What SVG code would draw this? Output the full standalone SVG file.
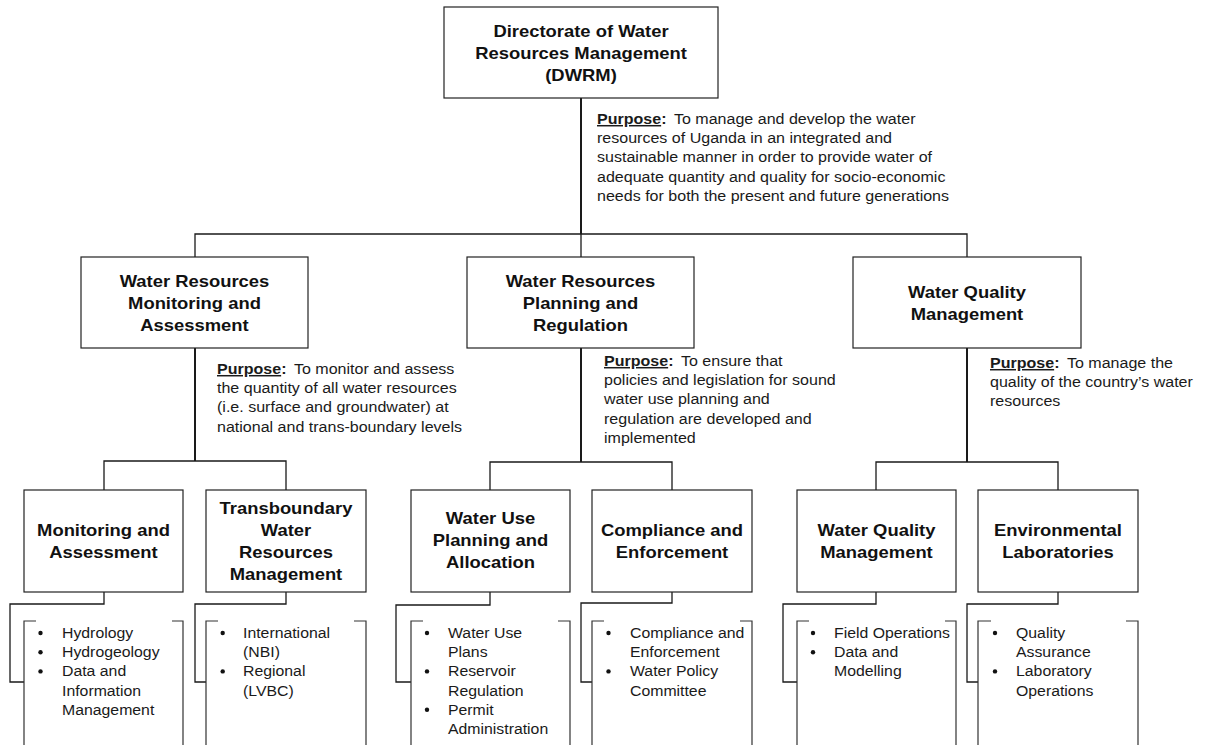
<svg xmlns="http://www.w3.org/2000/svg" width="1210" height="745" viewBox="0 0 1210 745">
<style>
.box{fill:#fff;stroke:#222;stroke-width:1.2}
.ln{fill:none;stroke:#1a1a1a;stroke-width:1.3}
.thk{fill:none;stroke:#1a1a1a;stroke-width:2}
.br{fill:none;stroke:#333;stroke-width:1.2}
.t{font-family:"Liberation Sans",Arial,sans-serif;font-weight:bold;font-size:16.3px;fill:#111;text-anchor:middle}
.b{font-family:"Liberation Sans",Arial,sans-serif;font-size:15px;fill:#1a1a1a}
.p{font-weight:bold;text-decoration:underline}
.c{font-weight:bold}
.dot{fill:#111}
</style>
<g id="connectors">
<path class="thk" d="M581,98V234"/>
<path class="ln" d="M195,257V234H967V257M581,234V257"/>
<path class="thk" d="M195,348V461M581,348V462M967,348V462"/>
<path class="ln" d="M104,490V461H286V490"/>
<path class="ln" d="M490,490V462H672V490"/>
<path class="ln" d="M876,490V462H1058V490"/>
<path class="ln" d="M104,592V604H10V682H24"/>
<path class="ln" d="M286,592V604H195V682H206"/>
<path class="ln" d="M490,592V605H396V682H411"/>
<path class="ln" d="M672,592V603H581V682H592"/>
<path class="ln" d="M876,592V604H783V682H797"/>
<path class="ln" d="M1058,592V604H967V682H978"/>
</g>
<g id="dwrm">
<rect class="box" x="444" y="7" width="274" height="91"/>
<g transform="translate(581,37) scale(1.13,1)"><text class="t"><tspan x="0" y="0">Directorate of Water</tspan><tspan x="0" y="22">Resources Management</tspan><tspan x="0" y="44">(DWRM)</tspan></text></g>
<g transform="translate(597,124) scale(1.07,1)"><text class="b"><tspan x="0" y="0"><tspan class="p">Purpose</tspan><tspan class="c">:</tspan><tspan dx="7">To manage and develop the water</tspan></tspan><tspan x="0" y="19.2">resources of Uganda in an integrated and</tspan><tspan x="0" y="38.4">sustainable manner in order to provide water of</tspan><tspan x="0" y="57.6">adequate quantity and quality for socio-economic</tspan><tspan x="0" y="76.8">needs for both the present and future generations</tspan></text></g>
</g>
<g id="wrma">
<rect class="box" x="81" y="257" width="227" height="91"/>
<g transform="translate(194.5,287) scale(1.13,1)"><text class="t"><tspan x="0" y="0">Water Resources</tspan><tspan x="0" y="22">Monitoring and</tspan><tspan x="0" y="44">Assessment</tspan></text></g>
<g transform="translate(217,374) scale(1.07,1)"><text class="b"><tspan x="0" y="0"><tspan class="p">Purpose</tspan><tspan class="c">:</tspan><tspan dx="7">To monitor and assess</tspan></tspan><tspan x="0" y="19.2">the quantity of all water resources</tspan><tspan x="0" y="38.4">(i.e. surface and groundwater) at</tspan><tspan x="0" y="57.6">national and trans-boundary levels</tspan></text></g>
</g>
<g id="wrpr">
<rect class="box" x="467" y="257" width="227" height="91"/>
<g transform="translate(580.5,287) scale(1.13,1)"><text class="t"><tspan x="0" y="0">Water Resources</tspan><tspan x="0" y="22">Planning and</tspan><tspan x="0" y="44">Regulation</tspan></text></g>
<g transform="translate(604,366) scale(1.07,1)"><text class="b"><tspan x="0" y="0"><tspan class="p">Purpose</tspan><tspan class="c">:</tspan><tspan dx="7">To ensure that</tspan></tspan><tspan x="0" y="19.2">policies and legislation for sound</tspan><tspan x="0" y="38.4">water use planning and</tspan><tspan x="0" y="57.6">regulation are developed and</tspan><tspan x="0" y="76.8">implemented</tspan></text></g>
</g>
<g id="wqm">
<rect class="box" x="853" y="257" width="228" height="91"/>
<g transform="translate(967,298) scale(1.13,1)"><text class="t"><tspan x="0" y="0">Water Quality</tspan><tspan x="0" y="22">Management</tspan></text></g>
<g transform="translate(990,368) scale(1.07,1)"><text class="b"><tspan x="0" y="0"><tspan class="p">Purpose</tspan><tspan class="c">:</tspan><tspan dx="7">To manage the</tspan></tspan><tspan x="0" y="19.2">quality of the country’s water</tspan><tspan x="0" y="38.4">resources</tspan></text></g>
</g>
<g id="ma">
<rect class="box" x="24" y="490" width="159" height="102"/>
<g transform="translate(103.5,536) scale(1.13,1)"><text class="t"><tspan x="0" y="0">Monitoring and</tspan><tspan x="0" y="22">Assessment</tspan></text></g>
</g>
<g id="ma-list">
<path class="br" d="M36,621H24V750M172,621H183V750"/>
<circle class="dot" cx="40.5" cy="633" r="2.2"/><circle class="dot" cx="40.5" cy="652.2" r="2.2"/><circle class="dot" cx="40.5" cy="671.4" r="2.2"/>
<g transform="translate(62,638) scale(1.055,1)"><text class="b"><tspan x="0" y="0">Hydrology</tspan><tspan x="0" y="19.2">Hydrogeology</tspan><tspan x="0" y="38.4">Data and</tspan><tspan x="0" y="57.6">Information</tspan><tspan x="0" y="76.8">Management</tspan></text></g>
</g>
<g id="twrm">
<rect class="box" x="206" y="490" width="160" height="102"/>
<g transform="translate(286,514) scale(1.13,1)"><text class="t"><tspan x="0" y="0">Transboundary</tspan><tspan x="0" y="22">Water</tspan><tspan x="0" y="44">Resources</tspan><tspan x="0" y="66">Management</tspan></text></g>
</g>
<g id="twrm-list">
<path class="br" d="M218,621H206V750M354,621H366V750"/>
<circle class="dot" cx="222.7" cy="633" r="2.2"/><circle class="dot" cx="222.7" cy="671.4" r="2.2"/>
<g transform="translate(243,638) scale(1.055,1)"><text class="b"><tspan x="0" y="0">International</tspan><tspan x="0" y="19.2">(NBI)</tspan><tspan x="0" y="38.4">Regional</tspan><tspan x="0" y="57.6">(LVBC)</tspan></text></g>
</g>
<g id="wupa">
<rect class="box" x="411" y="490" width="159" height="102"/>
<g transform="translate(490.5,524) scale(1.13,1)"><text class="t"><tspan x="0" y="0">Water Use</tspan><tspan x="0" y="22">Planning and</tspan><tspan x="0" y="44">Allocation</tspan></text></g>
</g>
<g id="wupa-list">
<path class="br" d="M423,621H411V750M558,621H570V750"/>
<circle class="dot" cx="427" cy="633" r="2.2"/><circle class="dot" cx="427" cy="671.4" r="2.2"/><circle class="dot" cx="427" cy="709.8" r="2.2"/>
<g transform="translate(448,638) scale(1.055,1)"><text class="b"><tspan x="0" y="0">Water Use</tspan><tspan x="0" y="19.2">Plans</tspan><tspan x="0" y="38.4">Reservoir</tspan><tspan x="0" y="57.6">Regulation</tspan><tspan x="0" y="76.8">Permit</tspan><tspan x="0" y="96">Administration</tspan></text></g>
</g>
<g id="ce">
<rect class="box" x="592" y="490" width="160" height="102"/>
<g transform="translate(672,536) scale(1.13,1)"><text class="t"><tspan x="0" y="0">Compliance and</tspan><tspan x="0" y="22">Enforcement</tspan></text></g>
</g>
<g id="ce-list">
<path class="br" d="M604,621H592V750M740,621H752V750"/>
<circle class="dot" cx="608.5" cy="633" r="2.2"/><circle class="dot" cx="608.5" cy="671.4" r="2.2"/>
<g transform="translate(630,638) scale(1.055,1)"><text class="b"><tspan x="0" y="0">Compliance and</tspan><tspan x="0" y="19.2">Enforcement</tspan><tspan x="0" y="38.4">Water Policy</tspan><tspan x="0" y="57.6">Committee</tspan></text></g>
</g>
<g id="wqm2">
<rect class="box" x="797" y="490" width="159" height="102"/>
<g transform="translate(876.5,536) scale(1.13,1)"><text class="t"><tspan x="0" y="0">Water Quality</tspan><tspan x="0" y="22">Management</tspan></text></g>
</g>
<g id="wqm2-list">
<path class="br" d="M809,621H797V750M945,621H956V750"/>
<circle class="dot" cx="813" cy="633" r="2.2"/><circle class="dot" cx="813" cy="652.2" r="2.2"/>
<g transform="translate(834,638) scale(1.055,1)"><text class="b"><tspan x="0" y="0">Field Operations</tspan><tspan x="0" y="19.2">Data and</tspan><tspan x="0" y="38.4">Modelling</tspan></text></g>
</g>
<g id="el">
<rect class="box" x="978" y="490" width="160" height="102"/>
<g transform="translate(1058,536) scale(1.13,1)"><text class="t"><tspan x="0" y="0">Environmental</tspan><tspan x="0" y="22">Laboratories</tspan></text></g>
</g>
<g id="el-list">
<path class="br" d="M991,621H978V750M1126,621H1138V750"/>
<circle class="dot" cx="995" cy="633" r="2.2"/><circle class="dot" cx="995" cy="671.4" r="2.2"/>
<g transform="translate(1016,638) scale(1.055,1)"><text class="b"><tspan x="0" y="0">Quality</tspan><tspan x="0" y="19.2">Assurance</tspan><tspan x="0" y="38.4">Laboratory</tspan><tspan x="0" y="57.6">Operations</tspan></text></g>
</g>
</svg>
